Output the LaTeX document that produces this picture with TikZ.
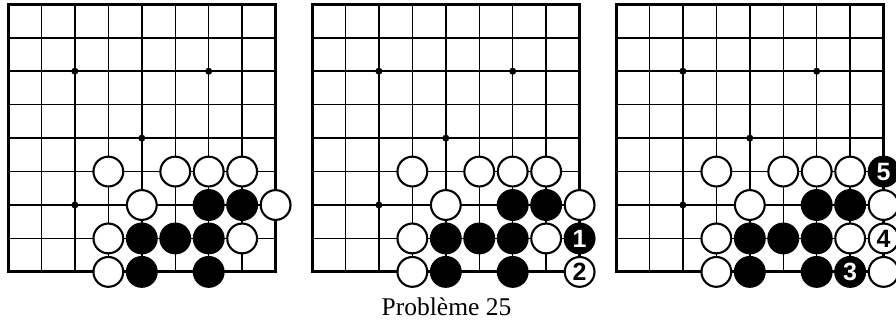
\documentclass[tikz,border=0pt]{standalone}
\usepackage{fontspec}
\setmainfont{Liberation Serif}
\newfontfamily\numfont{Liberation Sans}[BoldFont={Liberation Sans Bold}]
\newcommand{\stonefont}{\numfont\bfseries\fontsize{25pt}{25pt}\selectfont}
\tikzset{
  gridline/.style={line width=1.5pt,black},
  borderline/.style={line width=3pt,black,line cap=rect},
  wstone/.style={circle,draw=black,fill=white,line width=2.1pt,minimum size=29.8pt,inner sep=0pt,
    font=\stonefont,text=black},
  bstone/.style={circle,draw=black,fill=black,line width=2.1pt,minimum size=29.8pt,inner sep=0pt,
    font=\stonefont,text=white},
  hoshi/.style={circle,fill=black,inner sep=0pt,minimum size=7pt}
}
\newcommand{\goboard}[2]{%
  \begin{scope}[shift={(#1pt,-4.3pt)},x=33.45pt,y=-33.45pt]
    \foreach \i in {1,...,7}{
      \draw[gridline] (\i,0) -- (\i,8);
      \draw[gridline] (0,\i) -- (8,\i);
    }
    \draw[borderline] (0,0) rectangle (8,8);
    \foreach \c/\r [count=\k] in {2/2,6/2,4/4,2/6}
      \node[hoshi] (h#2\k) at (\c,\r) {};
    \foreach \c/\r [count=\k] in {4/6,6/6,7/6,8/6,5/7,9/7,4/8,8/8,4/9}
      \node[wstone] (w#2\k) at (\c-1,\r-1) {};
    \foreach \c/\r [count=\k] in {7/7,8/7,5/8,6/8,7/8,5/9,7/9}
      \node[bstone] (b#2\k) at (\c-1,\r-1) {};
  \end{scope}
}
\begin{document}
\begin{tikzpicture}[x=1pt,y=-1pt]
  \useasboundingbox (0,0) rectangle (896,325);
  \fill[white] (0,0) rectangle (896,325);
  \goboard{8}{a}
  \goboard{312}{b}
  \goboard{616}{c}
  % board 2 moves
  \begin{scope}[shift={(312pt,-4.3pt)},x=33.45pt,y=-33.45pt]
    \node[bstone] (m1) at (8,7) {1};
    \node[wstone] (m2) at (8,8) {2};
  \end{scope}
  % board 3 moves
  \begin{scope}[shift={(616pt,-4.3pt)},x=33.45pt,y=-33.45pt]
    \node[bstone] (m5) at (8,5) {5};
    \node[bstone] (m3) at (7,8) {3};
    \node[wstone] (m4) at (8,7) {4};
    \node[wstone] (m6) at (8,8) {};
  \end{scope}
  \node[font=\fontsize{25.5pt}{28pt}\selectfont,anchor=base,inner sep=0pt] (cap) at (446.5,315) {Problème 25};
\end{tikzpicture}
\end{document}
